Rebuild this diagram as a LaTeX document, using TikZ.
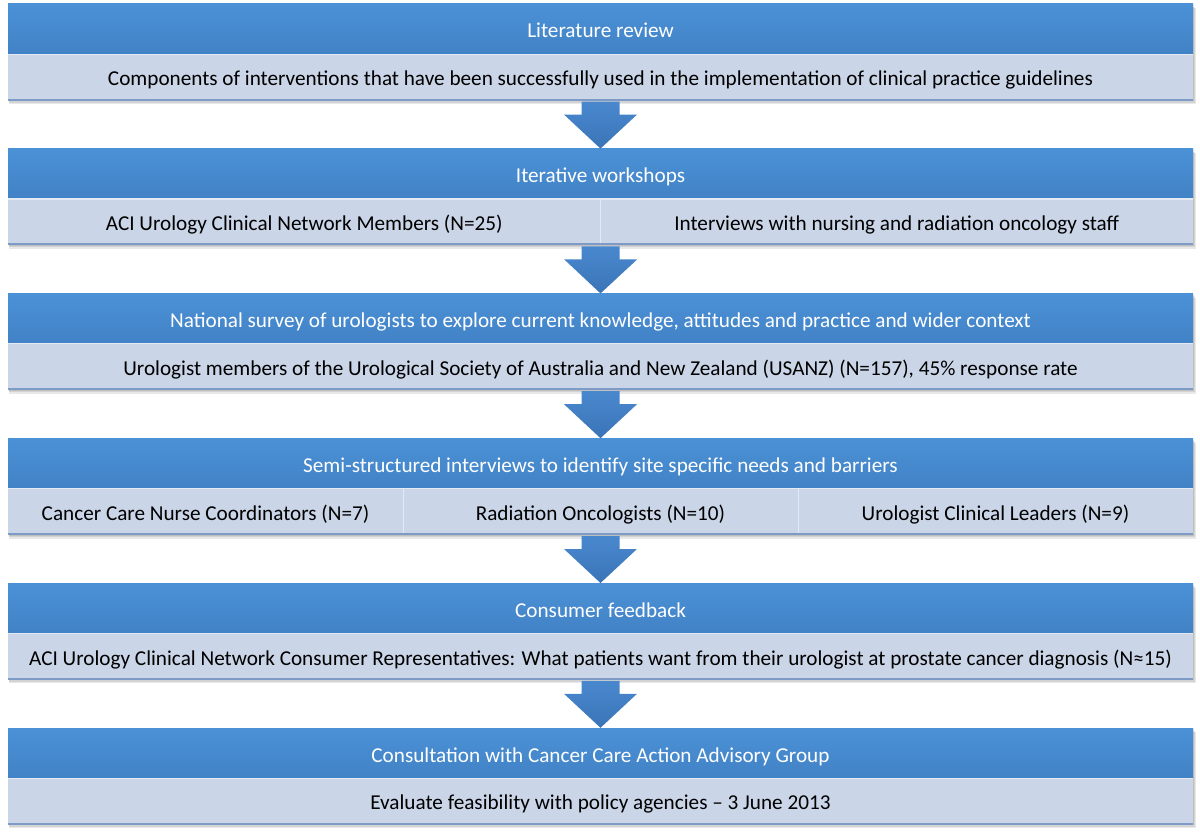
\documentclass[tikz,border=0pt]{standalone}
\usepackage{fontspec}
\setmainfont{Carlito}
\usetikzlibrary{calc,backgrounds}
\definecolor{hdrtop}{HTML}{4B91D6}
\definecolor{hdrbot}{HTML}{4282C6}
\definecolor{bodyc}{HTML}{CAD5E7}
\definecolor{blinec}{HTML}{7E9BC7}
\definecolor{divc}{HTML}{E4EAF4}
\definecolor{arrtop}{HTML}{4A88CE}
\definecolor{arrbot}{HTML}{3A74B7}
\tikzset{
  hdr/.style={rectangle, minimum width=1185, minimum height=50, inner sep=0,
    top color=hdrtop, bottom color=hdrbot, text=white, font=\fontsize{21.2}{24}\selectfont,
    text height=21, text depth=3},
  bodyfull/.style={rectangle, minimum width=1185, minimum height=45, inner sep=0,
    fill=bodyc, text=black, font=\fontsize{21.2}{24}\selectfont,
    text height=21, text depth=3},
  bodyhalf/.style={bodyfull, minimum width=592.5},
  bodythird/.style={bodyfull, minimum width=395},
  bline/.style={draw=blinec, line width=2},
  sepline/.style={draw=divc, line width=1.2},
  arrowfill/.style={top color=arrtop, bottom color=arrbot},
  shadowlayer/.style={fill=black, opacity=0.09}
}
\newcommand\fatarrow[2]{%
  \path[arrowfill] ($(#1)+(-19,2)$) -- ($(#1)+(19,2)$) -- ($(#1)+(19,15)$) --
    ($(#1)+(36.5,15)$) -- (#2) -- ($(#1)+(-36.5,15)$) -- ($(#1)+(-19,15)$) -- cycle;}
\newcommand\blockshadow[2]{%
  \foreach \o in {1.5,3,4.5}{%
    \fill[shadowlayer] ($(#1)+(1,\o)$) rectangle ($(#2)+(\o*0.6,\o)$);}}
\begin{document}
\begin{tikzpicture}[x=1pt,y=-1pt]
\useasboundingbox (0,0) rectangle (1200,834);
% block 1
\node[hdr] (h1) at (600.5,29) {Literature review};
\node[bodyfull, anchor=north] (b1) at (h1.south) {Components of interventions that have been successfully used in the implementation of clinical practice guidelines};
% block 2
\node[hdr] (h2) at (600.5,173.8) {Iterative workshops};
\node[bodyhalf, anchor=north west] (b2a) at (h2.south west) {ACI Urology Clinical Network Members (N=25)};
\node[bodyhalf, anchor=north east] (b2b) at (h2.south east) {Interviews with nursing and radiation oncology staff};
% block 3
\node[hdr] (h3) at (600.5,318.6) {National survey of urologists to explore current knowledge, attitudes and practice and wider context};
\node[bodyfull, anchor=north] (b3) at (h3.south) {Urologist members of the Urological Society of Australia and New Zealand (USANZ) (N=157), 45\% response rate};
% block 4
\node[hdr] (h4) at (600.5,463.4) {Semi-structured interviews to identify site specific needs and barriers};
\node[bodythird, anchor=north west] (b4a) at (h4.south west) {Cancer Care Nurse Coordinators (N=7)};
\node[bodythird, anchor=north] (b4b) at (h4.south) {Radiation Oncologists (N=10)};
\node[bodythird, anchor=north east] (b4c) at (h4.south east) {Urologist Clinical Leaders (N=9)};
% block 5
\node[hdr] (h5) at (600.5,608.2) {Consumer feedback};
\node[bodyfull, anchor=north] (b5) at (h5.south) {ACI Urology Clinical Network Consumer Representatives: What patients want from their urologist at prostate cancer diagnosis (N≈15)};
% block 6
\node[hdr] (h6) at (600.5,753) {Consultation with Cancer Care Action Advisory Group};
\node[bodyfull, anchor=north] (b6) at (h6.south) {Evaluate feasibility with policy agencies – 3 June 2013};
% separators and bottom lines
\draw[sepline] (h1.south west) -- (h1.south east);
\draw[sepline] (h2.south west) -- (h2.south east);
\draw[sepline] (h3.south west) -- (h3.south east);
\draw[sepline] (h4.south west) -- (h4.south east);
\draw[sepline] (h5.south west) -- (h5.south east);
\draw[sepline] (h6.south west) -- (h6.south east);
\draw[sepline] (b2a.north east) -- (b2a.south east);
\draw[sepline] (b4a.north east) -- (b4a.south east);
\draw[sepline] (b4b.north east) -- (b4b.south east);
\draw[bline] (b1.south west) -- (b1.south east);
\draw[bline] (b2a.south west) -- (b2b.south east);
\draw[bline] (b3.south west) -- (b3.south east);
\draw[bline] (b4a.south west) -- (b4c.south east);
\draw[bline] (b5.south west) -- (b5.south east);
\draw[bline] (b6.south west) -- (b6.south east);
% arrows
\fatarrow{b1.south}{h2.north}
\fatarrow{b2a.south east}{h3.north}
\fatarrow{b3.south}{h4.north}
\fatarrow{b4b.south}{h5.north}
\fatarrow{b5.south}{h6.north}
% background and shadows
\begin{pgfonlayer}{background}
\fill[white] (0,0) rectangle (1200,834);
\blockshadow{h1.north west}{b1.south east}
\blockshadow{h2.north west}{b2b.south east}
\blockshadow{h3.north west}{b3.south east}
\blockshadow{h4.north west}{b4c.south east}
\blockshadow{h5.north west}{b5.south east}
\blockshadow{h6.north west}{b6.south east}
\end{pgfonlayer}
\end{tikzpicture}
\end{document}
